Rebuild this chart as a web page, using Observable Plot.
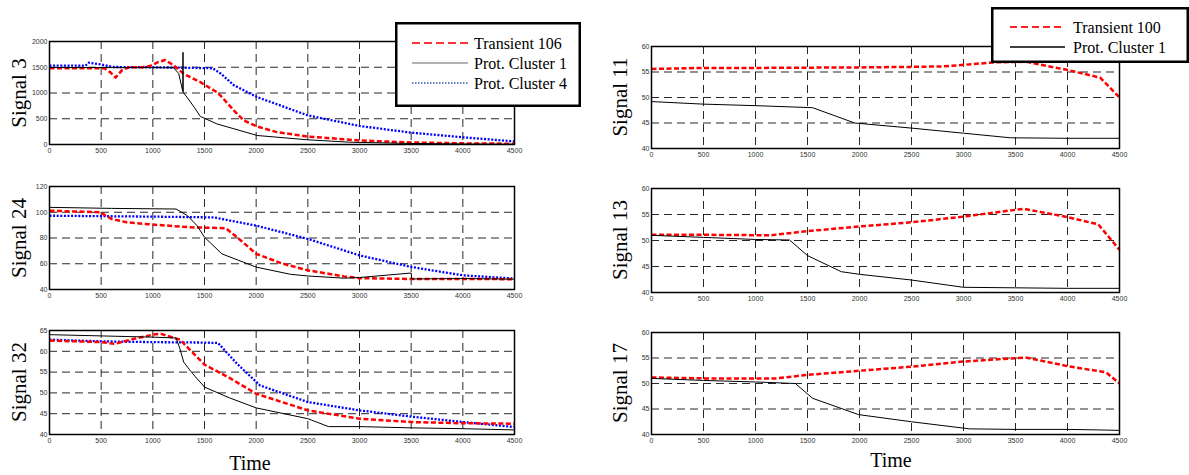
<!DOCTYPE html>
<html>
<head>
<meta charset="utf-8">
<script src="https://cdn.jsdelivr.net/npm/d3@7"></script>
<script src="https://cdn.jsdelivr.net/npm/@observablehq/plot@0.6"></script>
<style>
  html, body { margin: 0; padding: 0; background: #fff; }
  #root { position: relative; width: 1189px; height: 475px; background: #fff; overflow: hidden; }
  .panel { position: absolute; }
  .ylab { position: absolute; transform: translate(-50%, -50%) rotate(-90deg); white-space: nowrap;
          font-family: "Liberation Serif", "Times New Roman", serif; font-size: 21px; line-height: 1; color: #000; }
  .xlab { position: absolute; transform: translate(-50%, -50%); white-space: nowrap;
          font-family: "Liberation Serif", "Times New Roman", serif; font-size: 20px; line-height: 1; color: #000; }
  .legend { position: absolute; }
</style>
</head>
<body>
<div id="root"></div>
<script>
// ---------- tick values ----------
const xTicks = [0, 500, 1000, 1500, 2000, 2500, 3000, 3500, 4000, 4500];
const ticksSignal3 = [0, 500, 1000, 1500, 2000];
const ticksSignal24 = [40, 60, 80, 100, 120];
const ticksSignal32 = [40, 45, 50, 55, 60, 65];
const ticksRight = [40, 45, 50, 55, 60];

// ---------- legend labels ----------
const legendLeft = ["Transient 106", "Prot. Cluster 1", "Prot. Cluster 4"];
const legendRight = ["Transient 100", "Prot. Cluster 1"];

// ---------- Signal 3 ----------
const s3TransT = [0, 530, 590, 640, 700, 770, 900, 980, 1050, 1120, 1200, 1300, 1460, 1620, 1655, 1785, 1880, 2010, 2200, 2500, 3000, 3500, 4000, 4500];
const s3TransV = [1480, 1480, 1400, 1300, 1440, 1500, 1500, 1530, 1600, 1640, 1540, 1370, 1210, 1015, 950, 660, 466, 350, 240, 155, 78, 40, 22, 15];
const s3C1T = [0, 1200, 1250, 1290, 1292, 1294, 1330, 1400, 1460, 1620, 1785, 2010, 2500, 2900, 3500, 4000, 4500];
const s3C1V = [1495, 1490, 1380, 1030, 1790, 1010, 920, 725, 545, 400, 305, 175, 91, 45, 20, 10, 5];
const s3C4T = [0, 348, 381, 494, 620, 1000, 1580, 1655, 1785, 2010, 2500, 3000, 3500, 4000, 4500];
const s3C4V = [1530, 1530, 1590, 1555, 1505, 1500, 1480, 1380, 1150, 920, 565, 360, 230, 140, 60];

// ---------- Signal 24 ----------
const s24TransT = [0, 490, 600, 745, 1000, 1373, 1705, 1815, 2000, 2258, 2500, 2849, 3000, 3500, 4000, 4500];
const s24TransV = [101.2, 100, 94.8, 92.2, 90.4, 88.3, 87.6, 80.6, 67.7, 60, 54.9, 50.2, 48.8, 48.2, 48.2, 48];
const s24C1T = [0, 600, 1225, 1336, 1428, 1500, 1668, 2000, 2332, 2500, 2850, 3000, 3500, 3505, 4000, 4500];
const s24C1V = [103.8, 103, 102.5, 97.3, 89.6, 80.6, 67.7, 57.4, 51.8, 50.5, 48.8, 49.3, 52.8, 48.2, 48.5, 48];
const s24C4T = [0, 1000, 1594, 1668, 2000, 2500, 3000, 3500, 4000, 4500];
const s24C4V = [97.3, 96.6, 96, 94.8, 89.6, 79.3, 66.5, 57.5, 51, 48.5];

// ---------- Signal 32 ----------
const s32TransT = [0, 500, 634, 819, 1000, 1077, 1262, 1500, 1742, 2000, 2500, 3000, 3500, 4000, 4500];
const s32TransV = [62.6, 62.2, 61.8, 63, 64, 64.2, 62.8, 56.8, 53.6, 49.8, 45.8, 43.8, 43, 42.7, 42.6];
const s32C1T = [0, 1000, 1225, 1262, 1299, 1373, 1500, 1742, 2000, 2500, 2700, 3000, 3500, 4000, 4500];
const s32C1V = [64, 63.4, 63.2, 60.6, 57.4, 55, 51.4, 48.8, 46.4, 43.8, 41.9, 41.9, 41.6, 41.4, 41.1];
const s32C4T = [0, 500, 1000, 1500, 1631, 1815, 2037, 2500, 3000, 3500, 4000, 4500];
const s32C4V = [62.8, 62.4, 62.2, 62.1, 62, 57, 51.8, 47.8, 45.8, 44.3, 43, 41.8];

// ---------- Signal 11 ----------
const s11TransT = [0, 500, 1000, 2000, 2500, 2800, 3000, 3300, 3600, 4000, 4314, 4500];
const s11TransV = [55.6, 55.8, 55.8, 55.9, 56, 56.1, 56.4, 56.9, 57, 55.4, 53.9, 50];
const s11C1T = [0, 500, 1000, 1549, 1954, 2500, 3000, 3450, 4000, 4500];
const s11C1V = [49.2, 48.7, 48.4, 48, 45, 44, 43, 42.1, 42, 42];

// ---------- Signal 13 ----------
const s13TransT = [0, 500, 1143, 1500, 2000, 2500, 3000, 3577, 4000, 4296, 4500];
const s13TransV = [51.1, 51.1, 51, 51.8, 52.7, 53.5, 54.6, 56.1, 54.5, 53.1, 48.2];
const s13C1T = [0, 500, 1000, 1327, 1500, 1825, 2000, 2500, 3000, 3500, 4000, 4500];
const s13C1V = [51, 50.6, 50.2, 50.1, 47.1, 44, 43.5, 42.4, 41, 40.9, 40.8, 40.8];

// ---------- Signal 17 ----------
const s17TransT = [0, 500, 1200, 1500, 2000, 2500, 3000, 3595, 4000, 4370, 4500];
const s17TransV = [51.2, 51, 51, 51.7, 52.5, 53.3, 54.3, 55.1, 53.4, 52.2, 50];
const s17C1T = [0, 500, 1000, 1383, 1549, 1991, 2500, 3060, 3500, 4000, 4296, 4500];
const s17C1V = [51, 50.6, 50.3, 50, 47.1, 43.9, 42.5, 41.1, 41, 41, 40.9, 40.8];

// ---------- styles ----------
const styles = {
  trans: { stroke: "#ff0000", strokeWidth: 2.5, strokeDasharray: "5,2.5" },
  c1: { stroke: "#000000", strokeWidth: 1 },
  c4: { stroke: "#0000ff", strokeWidth: 2.3, strokeDasharray: "2,1.6" }
};

const panels = [
  { label: "Signal 3", lx: 19, left: 49, top: 41, w: 465, h: 103, domain: [0, 2000], ticks: ticksSignal3,
    series: [["c4", s3C4T, s3C4V], ["trans", s3TransT, s3TransV], ["c1", s3C1T, s3C1V]] },
  { label: "Signal 24", lx: 19, left: 49, top: 186, w: 465, h: 103, domain: [40, 120], ticks: ticksSignal24,
    series: [["c4", s24C4T, s24C4V], ["trans", s24TransT, s24TransV], ["c1", s24C1T, s24C1V]] },
  { label: "Signal 32", lx: 19, left: 49, top: 330, w: 465, h: 104, domain: [40, 65], ticks: ticksSignal32,
    series: [["c4", s32C4T, s32C4V], ["trans", s32TransT, s32TransV], ["c1", s32C1T, s32C1V]] },
  { label: "Signal 11", lx: 620, left: 651, top: 46, w: 468, h: 102, domain: [40, 60], ticks: ticksRight,
    series: [["trans", s11TransT, s11TransV], ["c1", s11C1T, s11C1V]] },
  { label: "Signal 13", lx: 620, left: 651, top: 188, w: 468, h: 104, domain: [40, 60], ticks: ticksRight,
    series: [["trans", s13TransT, s13TransV], ["c1", s13C1T, s13C1V]] },
  { label: "Signal 17", lx: 620, left: 651, top: 332, w: 468, h: 102, domain: [40, 60], ticks: ticksRight,
    series: [["trans", s17TransT, s17TransV], ["c1", s17C1T, s17C1V]] }
];

const root = document.getElementById("root");
const mL = 30, mR = 14, mT = 6, mB = 16;
const gridDash = "8,5";
const fmt = d => String(d);

for (const p of panels) {
  const innerX = xTicks.slice(1, -1);
  const innerY = p.ticks.slice(1, -1);
  const marks = [
    Plot.gridX(innerX, { stroke: "#111", strokeOpacity: 0.9, strokeWidth: 1, strokeDasharray: gridDash }),
    Plot.gridY(innerY, { stroke: "#111", strokeOpacity: 0.9, strokeWidth: 1, strokeDasharray: gridDash })
  ];
  for (const [key, T, V] of p.series) {
    marks.push(Plot.line(V, { x: T, y: V, ...styles[key], strokeLinecap: "butt", strokeLinejoin: "round" }));
  }
  marks.push(Plot.frame({ stroke: "#000", strokeWidth: 1.5 }));
  marks.push(Plot.axisX(xTicks, { tickSize: 0, tickPadding: 4, label: null, fill: "#333", tickFormat: fmt }));
  marks.push(Plot.axisY(p.ticks, { tickSize: 0, tickPadding: 2, label: null, fill: "#333", tickFormat: fmt }));

  const chart = Plot.plot({
    width: p.w + mL + mR,
    height: p.h + mT + mB,
    marginLeft: mL, marginRight: mR, marginTop: mT, marginBottom: mB,
    x: { domain: [0, 4500] },
    y: { domain: p.domain },
    style: { background: "transparent", fontFamily: "'Liberation Sans Narrow', 'Arial Narrow', 'Liberation Sans', Arial, sans-serif", fontSize: "7px", overflow: "visible" },
    marks
  });
  const wrap = document.createElement("div");
  wrap.className = "panel";
  wrap.style.left = (p.left - mL) + "px";
  wrap.style.top = (p.top - mT) + "px";
  wrap.appendChild(chart);
  root.appendChild(wrap);

  const yl = document.createElement("div");
  yl.className = "ylab";
  yl.textContent = p.label;
  yl.style.left = p.lx + "px";
  yl.style.top = (p.top + p.h / 2) + "px";
  root.appendChild(yl);
}

// Time labels
for (const [cx, cy] of [[250, 463], [891, 460]]) {
  const t = document.createElement("div");
  t.className = "xlab";
  t.textContent = "Time";
  t.style.left = cx + "px";
  t.style.top = cy + "px";
  root.appendChild(t);
}

// Legends
function makeLegend(x, y, w, h, labels, keys, lineX0, lineX1, textX, rowY0, rowStep, legStyles) {
  const svg = d3.create("svg").attr("class", "legend").attr("width", w).attr("height", h)
    .style("left", x + "px").style("top", y + "px");
  svg.append("rect").attr("x", 1.25).attr("y", 1.25).attr("width", w - 2.5).attr("height", h - 2.5)
    .attr("fill", "#fff").attr("stroke", "#000").attr("stroke-width", 2.5);
  labels.forEach((lab, i) => {
    const yy = rowY0 + i * rowStep;
    const s = legStyles[keys[i]];
    svg.append("line").attr("x1", lineX0).attr("x2", lineX1).attr("y1", yy).attr("y2", yy)
      .attr("stroke", s.stroke).attr("stroke-width", s.width).attr("stroke-dasharray", s.dash || null);
    svg.append("text").attr("x", textX).attr("y", yy).attr("dy", "0.35em")
      .attr("font-family", "'Liberation Serif', 'Times New Roman', serif").attr("font-size", 16)
      .attr("fill", "#000").text(lab);
  });
  root.appendChild(svg.node());
}
const legStyles1 = {
  trans: { stroke: "#ff3333", width: 2, dash: "8,4" },
  c1: { stroke: "#666", width: 1.2 },
  c4: { stroke: "#3355aa", width: 1.4, dash: "1.5,1.5" }
};
const legStyles2 = {
  trans: { stroke: "#ff2222", width: 2, dash: "7,4" },
  c1: { stroke: "#000", width: 1.5 }
};
makeLegend(395, 22, 186, 85, legendLeft, ["trans", "c1", "c4"], 17, 73, 79, 21, 20, legStyles1);
makeLegend(991, 7, 198, 56, legendRight, ["trans", "c1"], 19, 74, 82, 20, 20, legStyles2);
</script>
</body>
</html>
